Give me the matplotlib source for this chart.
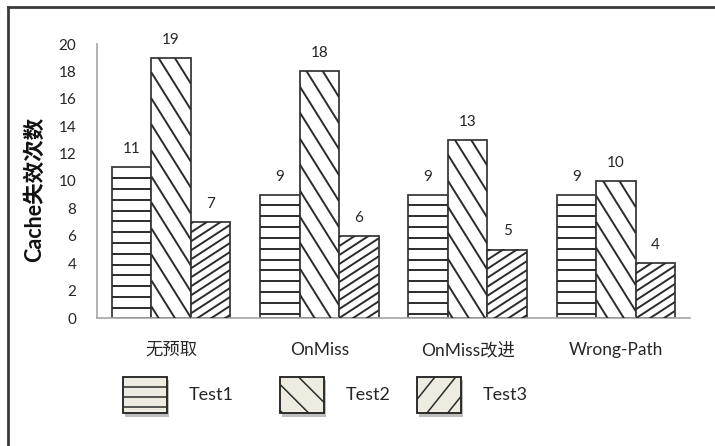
import numpy as np
import matplotlib
matplotlib.use("Agg")
import matplotlib.pyplot as plt
from matplotlib.collections import LineCollection
from matplotlib.transforms import IdentityTransform
from matplotlib.patches import Patch
from matplotlib.lines import Line2D
import matplotlib.patheffects as pe

categories = ['无预取', 'OnMiss', 'OnMiss改进', 'Wrong-Path']
series_names = ['Test1', 'Test2', 'Test3']
test1 = [11, 9, 9, 9]
test2 = [19, 18, 13, 10]
test3 = [7, 6, 5, 4]
y_ticks = [0, 2, 4, 6, 8, 10, 12, 14, 16, 18, 20]

FAM = ['Lato', 'Noto Sans CJK SC', 'DejaVu Sans']
plt.rcParams['font.family'] = FAM
TXT = '#262626'
EDGE = '#3c3c3c'
HATCH = '#2b2b2b'

W, H = 715, 446
fig = plt.figure(figsize=(W / 100, H / 100), dpi=100)
ax = fig.add_axes([97 / W, 1 - 318 / H, (690 - 97) / W, (318 - 44) / H])
ax.set_xlim(-0.5, len(categories) - 0.5)
ax.set_ylim(0, 20)

for s in ('top', 'right'):
    ax.spines[s].set_visible(False)
for s in ('left', 'bottom'):
    ax.spines[s].set_color('#a6a6a6')
    ax.spines[s].set_linewidth(1.2)

ax.set_yticks(y_ticks)
ax.set_yticklabels([str(v) for v in y_ticks])
ax.set_xticks(range(len(categories)))
ax.set_xticklabels(categories, fontsize=12.5)
ax.tick_params(axis='y', length=0, pad=15, labelsize=11, labelcolor=TXT)
ax.tick_params(axis='x', length=0, pad=17, labelcolor=TXT)

ax.set_ylabel('Cache失效次数', fontsize=15.5, fontweight='bold', color='#111111')
ax.yaxis.set_label_coords(-0.088, 0.47)

# hatch styles: (slope in display space, vertical spacing px); None = horizontal
styles = [(None, 10.8), (-1.6, 26.0), (0.65, 9.0)]


def hatch_rect(artist, x0, y0, x1, y1, slope, spacing, lw=1.4, zorder=3, parent=None):
    segs = []
    if slope is None:
        y = y1 - spacing
        while y > y0 + 1:
            segs.append([(x0, y), (x1, y)])
            y -= spacing
    else:
        span = abs(slope) * (x1 - x0)
        c = y1 + span + spacing
        while c > y0 - span - spacing:
            segs.append([(x0, c), (x1, c + slope * (x1 - x0))])
            c -= spacing
    lc = LineCollection(segs, colors=HATCH, linewidths=lw,
                        transform=IdentityTransform(), zorder=zorder)
    if parent is fig:
        fig.add_artist(lc)
    else:
        ax.add_collection(lc, autolim=False)
    # clip to the exact rectangle in pixel space
    lc.set_clip_box(artist.get_window_extent())
    lc.set_clip_path(None)


bw = 0.267
x = np.arange(len(categories))
for k, vals in enumerate([test1, test2, test3]):
    bars = ax.bar(x + (k - 1) * bw, vals, width=bw, color='white',
                  edgecolor=EDGE, linewidth=1.3, zorder=2)
    for b, v in zip(bars, vals):
        (bx0, by0), (bx1, by1) = ax.transData.transform(
            [(b.get_x(), 0), (b.get_x() + b.get_width(), v)])
        hatch_rect(b, bx0, by0, bx1, by1, styles[k][0], styles[k][1])
        ax.annotate(str(v), (b.get_x() + b.get_width() / 2, v),
                    xytext=(0, 8), textcoords='offset points',
                    ha='center', va='bottom', fontsize=11, color=TXT)

# legend: one entry per series, each placed on its own
legend_x = [114, 271, 408]
legends = []
for name, lx in zip(series_names, legend_x):
    h = Patch(facecolor='#eeece1', edgecolor='#1e1e1e', linewidth=1.3, label=name)
    lg = fig.legend(handles=[h], loc='center left',
                    bbox_to_anchor=(lx / W, 1 - 395 / H), frameon=False,
                    fontsize=13, handlelength=2.45, handleheight=2.75,
                    handletextpad=1.2, borderpad=0, labelcolor=TXT)
    for p in lg.get_patches():
        p.set_path_effects([pe.SimplePatchShadow(offset=(1.5, -2.5), alpha=0.35),
                            pe.Normal()])
    legends.append(lg)

fig.canvas.draw()
leg_styles = [(None, 10.0), (-1.0, 26.0), (1.25, 26.0)]
for lg, (sl, sp) in zip(legends, leg_styles):
    p = lg.get_patches()[0]
    bb = p.get_window_extent()
    hatch_rect(p, bb.x0, bb.y0, bb.x1, bb.y1, sl, sp, lw=1.1, zorder=6, parent=fig)

# outer frame
fig.add_artist(Line2D([8 / W, 8 / W], [0, 1 - 7 / H], transform=fig.transFigure,
                      color='#3a3a3a', linewidth=2))
fig.add_artist(Line2D([8 / W, 1], [1 - 7 / H, 1 - 7 / H], transform=fig.transFigure,
                      color='#3a3a3a', linewidth=2))

fig.savefig('out.png', dpi=100, facecolor='white')
